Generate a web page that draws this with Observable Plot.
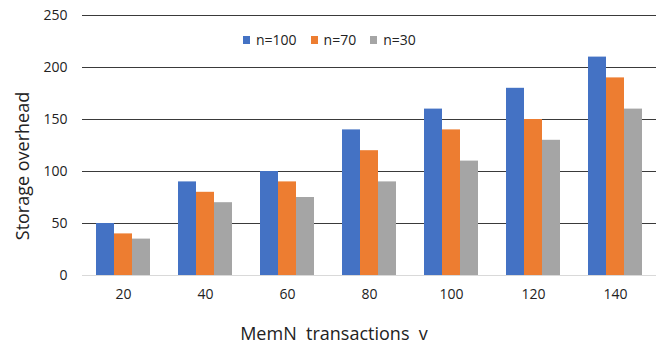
<!DOCTYPE html>
<html>
<head>
<meta charset="utf-8">
<script src="https://cdn.jsdelivr.net/npm/d3@7"></script>
<script src="https://cdn.jsdelivr.net/npm/@observablehq/plot@0.6"></script>
<style>
  html, body { margin: 0; padding: 0; background: #fff; }
  #wrap { position: relative; width: 666px; height: 349px; font-family: "Open Sans", sans-serif; color: #222; }
  #wrap svg text { white-space: pre; }
  .ytitle { position: absolute; left: 22px; top: 166px; transform: translate(-50%, -50%) rotate(-90deg); font-size: 18px; white-space: pre; }
  .xtitle { position: absolute; left: 334px; top: 333px; transform: translate(-50%, -50%); font-size: 18px; white-space: pre; }
  .legend { position: absolute; top: 30px; left: 243px; display: flex; align-items: center; font-size: 14px; }
  .legend .item { display: flex; align-items: center; margin-right: 14px; }
  .legend .sw { width: 7px; height: 8px; margin-right: 6px; }
</style>
</head>
<body>
<div id="wrap"></div>
<script>
const categories = [20, 40, 60, 80, 100, 120, 140];
const seriesNames = ["n=100", "n=70", "n=30"];
const n100 = [50, 90, 100, 140, 160, 180, 210];
const n70 = [40, 80, 90, 120, 140, 150, 190];
const n30 = [35, 70, 75, 90, 110, 130, 160];
const colors = ["#4472C4", "#ED7D31", "#A5A5A5"];
const yTicks = [0, 50, 100, 150, 200, 250];
const xTitle = "MemN  transactions  v";
const yTitle = "Storage overhead";

const seriesValues = [n100, n70, n30];
const data = [];
categories.forEach((c, i) => {
  seriesNames.forEach((s, j) => {
    data.push({cat: c, series: s, value: seriesValues[j][i]});
  });
});

const chart = Plot.plot({
  width: 666,
  height: 349,
  marginLeft: 82,
  marginRight: 10,
  marginTop: 15,
  marginBottom: 74,
  style: {fontFamily: "'Open Sans', sans-serif", fontSize: "14px", color: "#222", background: "white"},
  facet: {data, x: "cat"},
  fx: {domain: categories, padding: 0, label: null, tickSize: 0, tickPadding: 14},
  x: {domain: seriesNames, axis: null, paddingInner: 0, paddingOuter: 0.74},
  y: {domain: [0, 250], ticks: yTicks, label: null, tickSize: 0, tickPadding: 15},
  color: {domain: seriesNames, range: colors},
  marks: [
    Plot.ruleY(yTicks.filter(d => d > 0), {stroke: "#3a3a3a", strokeWidth: 1}),
    Plot.ruleY([0], {stroke: "#d9d9d9", strokeWidth: 1}),
    Plot.barY(data, {x: "series", y: "value", fill: "series"})
  ]
});

const wrap = document.getElementById("wrap");
wrap.appendChild(chart);

const yt = document.createElement("div");
yt.className = "ytitle"; yt.textContent = yTitle; wrap.appendChild(yt);
const xt = document.createElement("div");
xt.className = "xtitle"; xt.textContent = xTitle; wrap.appendChild(xt);

const lg = document.createElement("div");
lg.className = "legend";
seriesNames.forEach((s, j) => {
  const it = document.createElement("div"); it.className = "item";
  const sw = document.createElement("div"); sw.className = "sw"; sw.style.background = colors[j];
  const tx = document.createElement("span"); tx.textContent = s;
  it.appendChild(sw); it.appendChild(tx); lg.appendChild(it);
});
wrap.appendChild(lg);
</script>
</body>
</html>
